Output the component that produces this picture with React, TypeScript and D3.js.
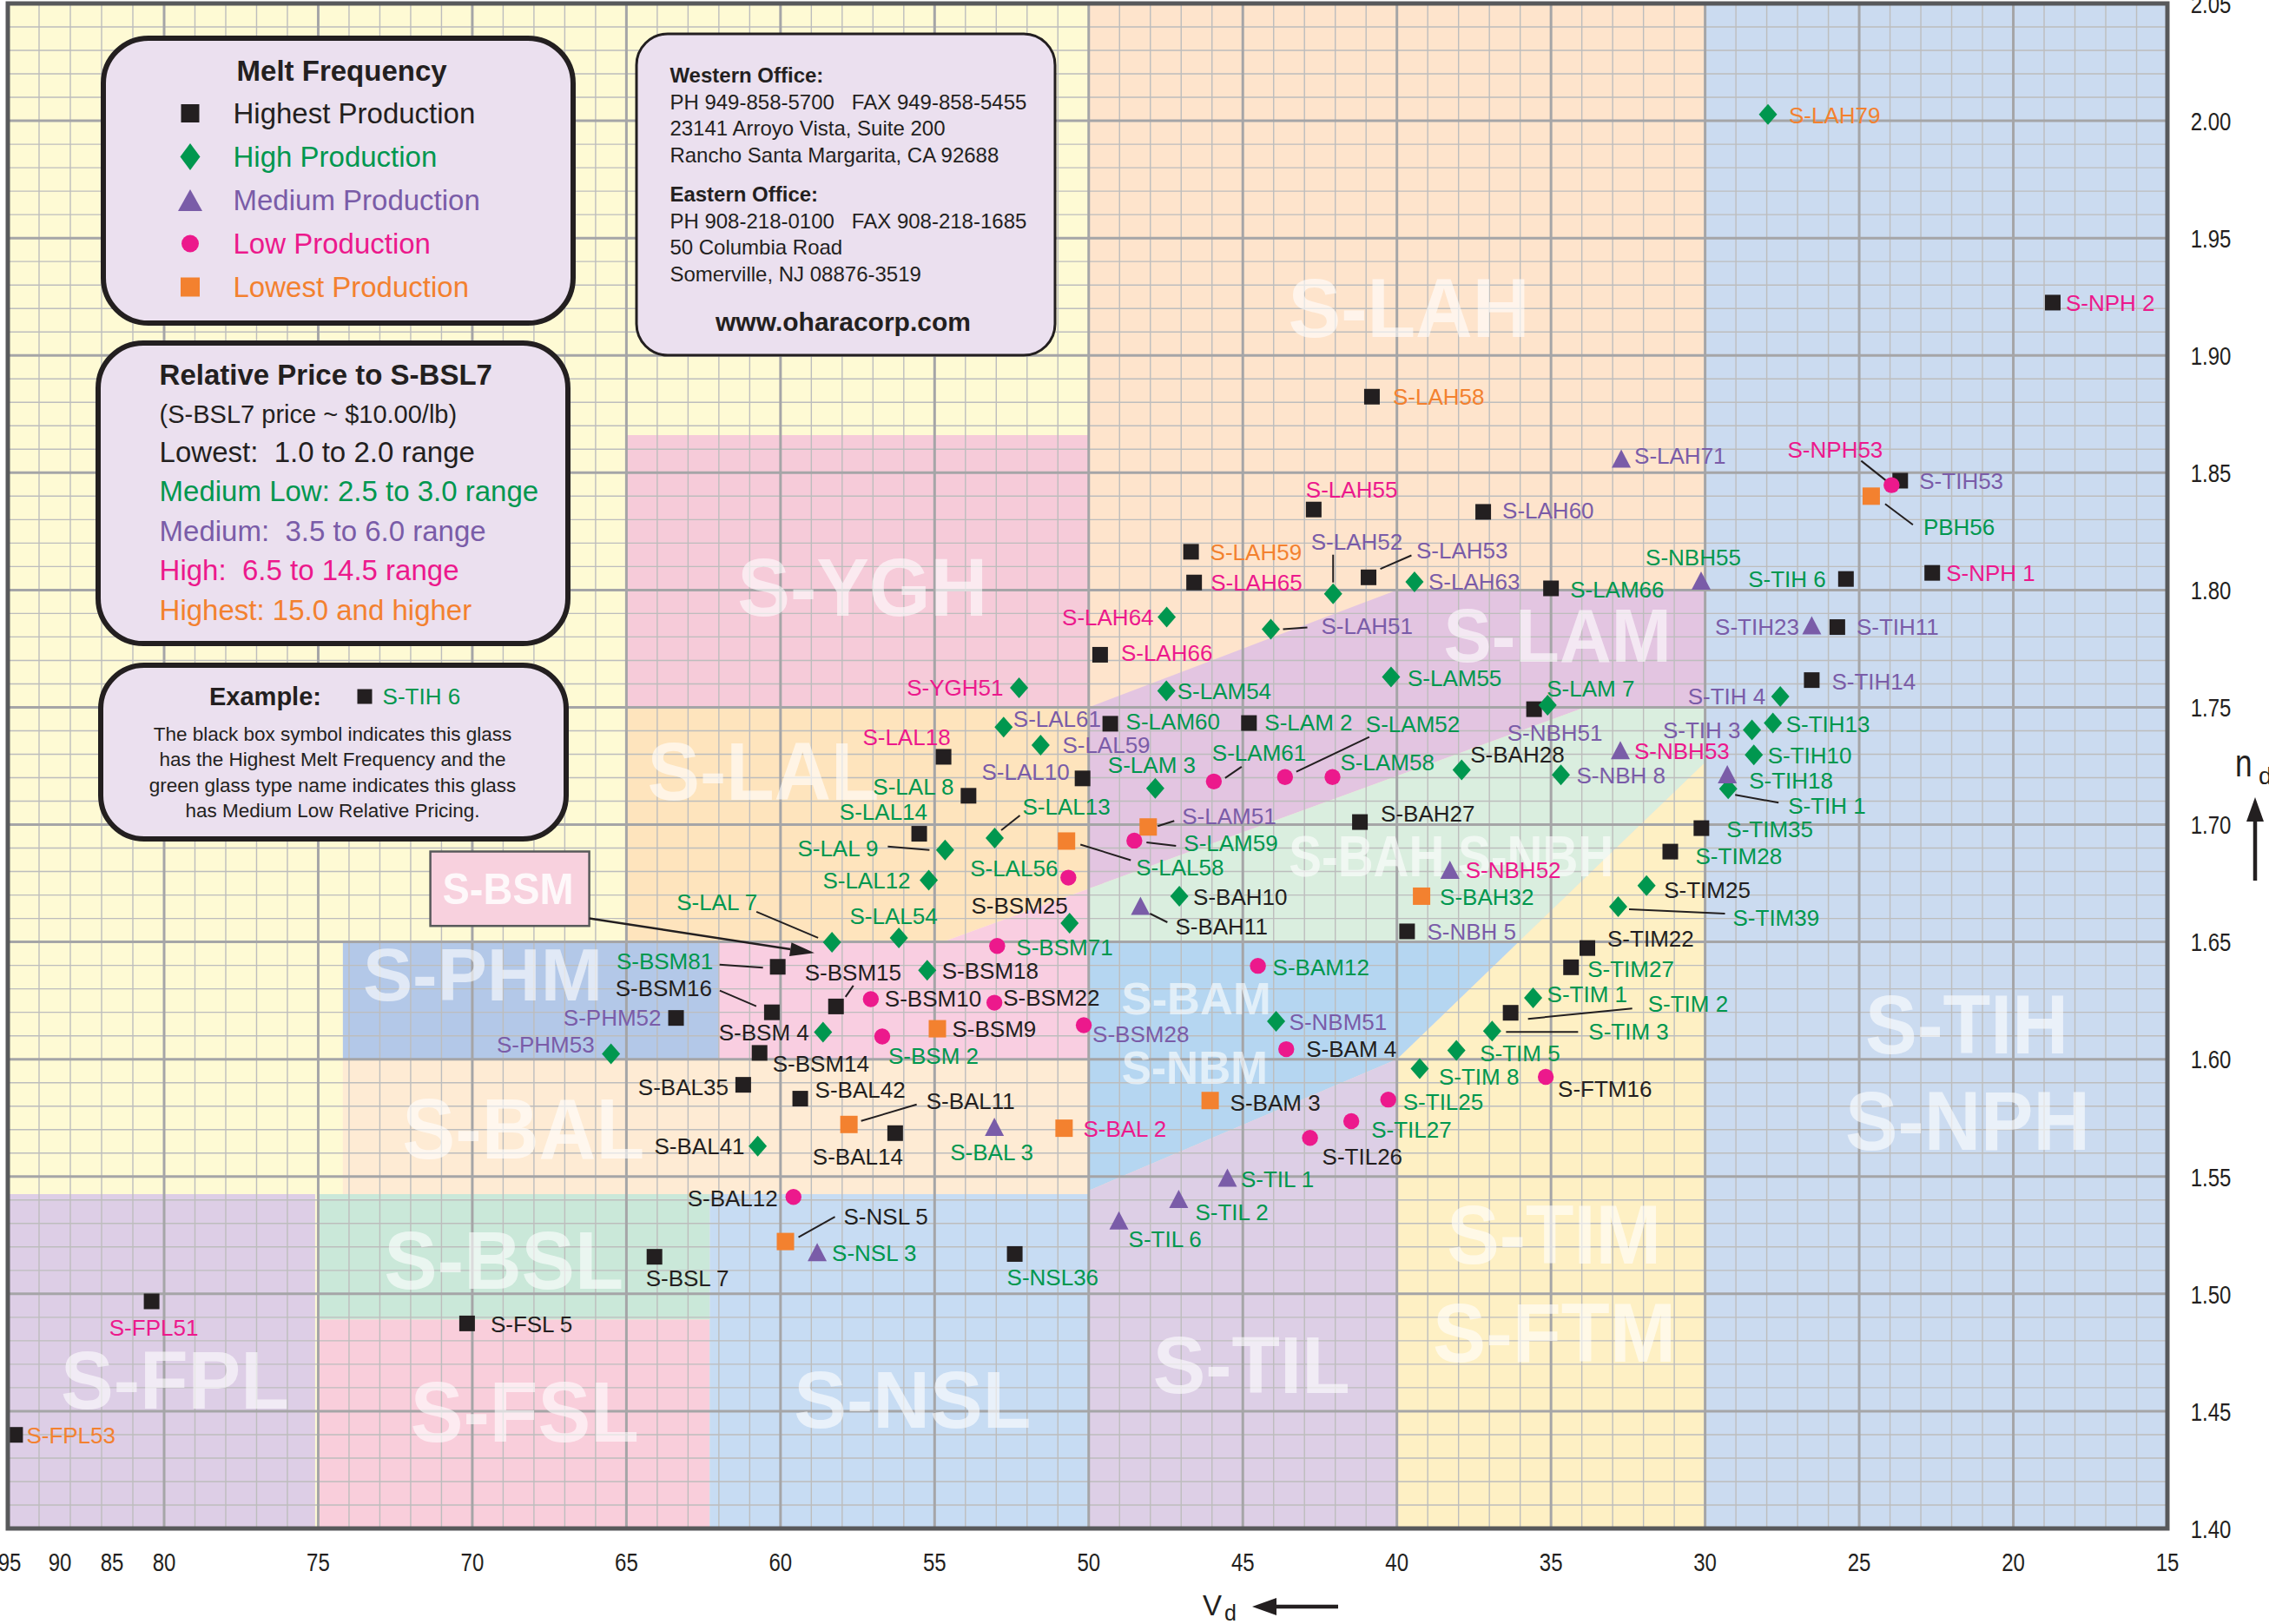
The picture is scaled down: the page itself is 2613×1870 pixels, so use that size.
import React from "react";
import * as d3 from "d3";

const W = 2613;
const H = 1870;

// glass types as printed on the map
const glassNames = [
  "S-FPL53", "S-FPL51", "S-FSL 5", "S-BSL 7", "S-NSL 3", "S-NSL 5", "S-NSL36",
  "S-BAL12", "S-BAL41", "S-BAL35", "S-BAL42", "S-BAL11", "S-BAL14", "S-BAL 3", "S-BAL 2",
  "S-PHM52", "S-PHM53",
  "S-BSM81", "S-BSM16", "S-BSM14", "S-BSM 4", "S-BSM15", "S-BSM10", "S-BSM 2", "S-BSM18", "S-BSM9", "S-BSM22", "S-BSM71", "S-BSM25", "S-BSM28",
  "S-LAL 7", "S-LAL54", "S-LAL12", "S-LAL 9", "S-LAL14", "S-LAL 8", "S-LAL18", "S-LAL13", "S-LAL56", "S-LAL58", "S-LAL10", "S-LAL59", "S-LAL61",
  "S-YGH51",
  "S-LAM60", "S-LAM 3", "S-LAM51", "S-LAM59", "S-LAM54", "S-LAM 2", "S-LAM61", "S-LAM52", "S-LAM58", "S-LAM55", "S-NBH51", "S-LAM 7", "S-LAM66",
  "S-LAH64", "S-LAH66", "S-LAH59", "S-LAH65", "S-LAH55", "S-LAH52", "S-LAH53", "S-LAH63", "S-LAH51", "S-LAH60", "S-LAH58", "S-LAH71", "S-LAH79",
  "S-BAH10", "S-BAH11", "S-BAH27", "S-BAH28", "S-BAH32",
  "S-NBH52", "S-NBH 5", "S-NBH 8", "S-NBH53", "S-NBH55",
  "S-BAM12", "S-NBM51", "S-BAM 4", "S-BAM 3",
  "S-TIL 1", "S-TIL 2", "S-TIL 6", "S-TIL25", "S-TIL27", "S-TIL26",
  "S-TIM22", "S-TIM27", "S-TIM 1", "S-TIM 2", "S-TIM 3", "S-TIM 5", "S-TIM 8", "S-FTM16", "S-TIM25", "S-TIM39", "S-TIM28", "S-TIM35",
  "S-TIH 1", "S-TIH18", "S-TIH10", "S-TIH 3", "S-TIH13", "S-TIH 4", "S-TIH14", "S-TIH23", "S-TIH11", "S-TIH 6", "S-NPH 1", "S-TIH53", "S-NPH53", "PBH56", "S-NPH 2",
];

// abbe number vd
const abbeNumbers = [
  94.3, 81.2, 70.17, 64.09, 58.81, 59.84, 52.4,
  59.58, 60.74, 61.21, 59.36, 57.78, 56.28, 53.06, 50.8,
  63.39, 65.5,
  60.09, 60.28, 60.68, 58.62, 58.2, 57.07, 56.7, 55.24, 54.91, 53.06, 52.97, 50.62, 50.16,
  58.33, 56.16, 55.19, 54.66, 55.5, 53.9, 54.71, 53.05, 50.66, 50.72, 50.2, 51.56, 52.76,
  52.26,
  49.3, 47.84, 48.07, 48.52, 47.48, 44.8, 45.94, 43.63, 42.09, 40.19, 35.55, 35.11, 35.0,
  47.47, 49.63, 46.68, 46.58, 42.7, 42.07, 40.92, 39.43, 44.09, 37.2, 40.81, 32.72, 27.96,
  47.06, 48.32, 41.2, 37.9, 39.2,
  38.28, 39.67, 34.68, 32.75, 30.13,
  44.51, 43.92, 43.59, 46.06,
  45.5, 47.08, 49.02, 40.28, 41.48, 42.82,
  33.82, 34.35, 35.58, 36.31, 36.91, 38.07, 39.26, 35.17, 31.9, 32.82, 31.13, 30.12,
  29.25, 29.28, 28.42, 28.48, 27.8, 27.56, 26.54, 26.54, 25.71, 25.43, 22.63, 23.67, 23.95, 24.61, 18.72,
];

// refractive index nd
const refractiveIndices = [
  1.4399, 1.4968, 1.4874, 1.5158, 1.5178, 1.5223, 1.517,
  1.5413, 1.563, 1.5891, 1.5832, 1.5722, 1.5685, 1.5712, 1.5706,
  1.6176, 1.6023,
  1.6394, 1.62, 1.6027, 1.6115, 1.6225, 1.6256, 1.6097, 1.6379, 1.613, 1.6241, 1.6483, 1.658, 1.6145,
  1.6499, 1.6517, 1.6763, 1.6892, 1.6961, 1.7123, 1.7289, 1.6943, 1.6774, 1.693, 1.7197, 1.7339, 1.7416,
  1.7583,
  1.743, 1.7155, 1.699, 1.6932, 1.757, 1.7433, 1.7184, 1.7203, 1.7203, 1.7629, 1.7492, 1.7509, 1.8007,
  1.7885, 1.7724, 1.8163, 1.8032, 1.8343, 1.7984, 1.8054, 1.8035, 1.7833, 1.8333, 1.8824, 1.856, 2.0027,
  1.6695, 1.6654, 1.7011, 1.7233, 1.6695,
  1.6808, 1.6545, 1.7212, 1.7318, 1.804,
  1.6398, 1.6162, 1.6043, 1.5824,
  1.5495, 1.5405, 1.5313, 1.5828, 1.5736, 1.5665,
  1.6474, 1.6392, 1.6262, 1.6198, 1.612, 1.6038, 1.596, 1.5925, 1.674, 1.665, 1.6885, 1.6985,
  1.7153, 1.7215, 1.7297, 1.7404, 1.7433, 1.7546, 1.7616, 1.785, 1.7842, 1.8047, 1.8073, 1.8466, 1.8447, 1.84, 1.9225,
];

// melt frequency -> marker
const meltFrequency = [
  "highest", "highest", "highest", "highest", "medium", "lowest", "highest",
  "low", "high", "highest", "highest", "lowest", "highest", "medium", "lowest",
  "highest", "high",
  "highest", "highest", "highest", "high", "highest", "low", "low", "high", "lowest", "low", "low", "high", "low",
  "high", "high", "high", "high", "highest", "highest", "highest", "high", "low", "lowest", "highest", "high", "high",
  "high",
  "highest", "high", "lowest", "low", "high", "highest", "low", "low", "low", "high", "highest", "high", "highest",
  "high", "highest", "highest", "highest", "highest", "high", "highest", "high", "high", "highest", "highest", "medium", "high",
  "high", "medium", "highest", "high", "lowest",
  "medium", "highest", "high", "medium", "medium",
  "low", "high", "low", "lowest",
  "medium", "medium", "medium", "low", "low", "low",
  "highest", "highest", "high", "highest", "high", "high", "high", "low", "high", "high", "highest", "highest",
  "high", "medium", "high", "high", "high", "high", "highest", "medium", "highest", "highest", "highest", "highest", "low", "lowest", "highest",
];

// relative price -> label colour
const relativePrice = [
  "highest", "high", "lowest", "lowest", "mediumLow", "lowest", "mediumLow",
  "lowest", "lowest", "lowest", "lowest", "lowest", "lowest", "mediumLow", "high",
  "medium", "medium",
  "mediumLow", "lowest", "lowest", "lowest", "lowest", "lowest", "mediumLow", "lowest", "lowest", "lowest", "mediumLow", "lowest", "medium",
  "mediumLow", "mediumLow", "mediumLow", "mediumLow", "mediumLow", "mediumLow", "high", "mediumLow", "mediumLow", "mediumLow", "medium", "medium", "medium",
  "high",
  "mediumLow", "mediumLow", "medium", "mediumLow", "mediumLow", "mediumLow", "mediumLow", "mediumLow", "mediumLow", "mediumLow", "medium", "mediumLow", "mediumLow",
  "high", "high", "highest", "high", "high", "medium", "medium", "medium", "medium", "medium", "highest", "medium", "highest",
  "lowest", "lowest", "lowest", "lowest", "mediumLow",
  "high", "medium", "medium", "high", "mediumLow",
  "mediumLow", "medium", "lowest", "lowest",
  "mediumLow", "mediumLow", "mediumLow", "mediumLow", "mediumLow", "lowest",
  "lowest", "mediumLow", "mediumLow", "mediumLow", "mediumLow", "mediumLow", "mediumLow", "lowest", "lowest", "mediumLow", "mediumLow", "mediumLow",
  "mediumLow", "mediumLow", "mediumLow", "medium", "mediumLow", "medium", "medium", "medium", "medium", "mediumLow", "high", "medium", "high", "mediumLow", "high",
];

const abbeTicks = [95, 90, 85, 80, 75, 70, 65, 60, 55, 50, 45, 40, 35, 30, 25, 20, 15];
const indexTicks = ["1.40", "1.45", "1.50", "1.55", "1.60", "1.65", "1.70", "1.75", "1.80", "1.85", "1.90", "1.95", "2.00", "2.05"];

// glass family zones, outlines in (vd, nd)
const familyZones = [
  ["base", "#fefad4", [[95, 1.4], [95, 2.05], [50, 2.05], [50, 1.4]]],
  ["S-LAH", "#fee4cc", [[50, 1.4], [50, 2.05], [30, 2.05], [30, 1.4]]],
  ["S-TIH", "#cbdbf0", [[30, 1.4], [30, 2.05], [15, 2.05], [15, 1.4]]],
  ["S-YGH", "#f6cbd9", [[65, 1.75], [65, 1.866], [50, 1.866], [50, 1.75]]],
  ["S-LAL", "#fee4bd", [[65, 1.65], [65, 1.75], [50, 1.75], [50, 1.6727], [54.73, 1.65]]],
  ["S-LAM", "#e3c5e1", [[50, 1.6727], [50, 1.75], [40, 1.8], [30, 1.8], [30, 1.75], [33.9, 1.75]]],
  ["S-BAH", "#daeedf", [[50, 1.65], [50, 1.6727], [33.9, 1.75], [30, 1.75], [30, 1.7265], [36.05, 1.65]]],
  ["S-TIM", "#fef0c4", [[40, 1.4], [40, 1.6], [30, 1.7265], [30, 1.4]]],
  ["S-BAM", "#b5d6f1", [[50, 1.544], [50, 1.65], [36.05, 1.65], [40, 1.6]]],
  ["S-TIL", "#ddcfe6", [[50, 1.4], [50, 1.544], [40, 1.6], [40, 1.4]]],
  ["S-BSM", "#f9cee1", [[62, 1.6], [62, 1.65], [54.73, 1.65], [50, 1.6727], [50, 1.6]]],
  ["S-PHM", "#b3c8e8", [[74.2, 1.6], [74.2, 1.65], [62, 1.65], [62, 1.6]]],
  ["S-BAL", "#feebd4", [[74.2, 1.5425], [74.2, 1.6], [50, 1.6], [50, 1.5425]]],
  ["S-BSL", "#cae8d9", [[75, 1.489], [75, 1.5425], [62.3, 1.5425], [62.3, 1.489]]],
  ["S-FSL", "#f9cedb", [[75, 1.4], [75, 1.489], [62.3, 1.489], [62.3, 1.4]]],
  ["S-FPL", "#ddcee6", [[95, 1.4], [95, 1.5425], [75.1, 1.5425], [75.1, 1.4]]],
  ["S-NSL", "#c7dcf3", [[62.3, 1.4], [62.3, 1.5425], [50, 1.5425], [50, 1.4]]],
];

// family names: text, vd, nd, font size, width
const familyLabels = [
  ["S-LAH", 39.61, 1.9207, 96, 278],
  ["S-YGH", 57.34, 1.8015, 94, 288],
  ["S-LAL", 60.56, 1.7229, 94, 267],
  ["S-LAM", 34.79, 1.781, 87, 262],
  ["S-BAH S-NBH", 38.24, 1.6867, 67, 374],
  ["S-BAM", 46.51, 1.6259, 51, 172],
  ["S-NBM", 46.56, 1.5966, 53, 168],
  ["S-PHM", 69.66, 1.6363, 86, 276],
  ["S-BAL", 68.34, 1.5706, 98, 279],
  ["S-BSL", 68.98, 1.5147, 94, 276],
  ["S-FPL", 79.65, 1.4637, 94, 263],
  ["S-FSL", 68.3, 1.45, 98, 263],
  ["S-NSL", 55.72, 1.4552, 93, 273],
  ["S-TIL", 44.72, 1.4701, 92, 227],
  ["S-TIM", 34.9, 1.5255, 96, 247],
  ["S-FTM", 34.89, 1.4838, 96, 280],
  ["S-TIH", 21.51, 1.6153, 96, 234],
  ["S-NPH", 21.48, 1.574, 96, 282],
];

// label offset from marker: dx, dy, anchor, optional leader line
const labelLayout = {
  "S-FPL53": [13, 0, "s"],
  "S-FPL51": [2.5, 30, "m"],
  "S-FSL 5": [27, 1, "s"],
  "S-BSL 7": [-10, 25, "s"],
  "S-NSL 3": [17, 1, "s"],
  "S-NSL 5": [67, -29, "s", [15, -5, 57, -28.5]],
  "S-NSL36": [-9, 27, "s"],
  "S-BAL12": [-18, 1, "e"],
  "S-BAL41": [-15, 0, "e"],
  "S-BAL35": [-17, 3, "e"],
  "S-BAL42": [17, -10, "s"],
  "S-BAL11": [89, -27, "s", [14, -4, 78, -23]],
  "S-BAL14": [-43, 27, "m"],
  "S-BAL 3": [-3, 29, "m"],
  "S-BAL 2": [22, 1, "s"],
  "S-PHM52": [-17, 0, "e"],
  "S-PHM53": [-19, -11, "e"],
  "S-BSM81": [-74.5, -7, "e", [-67, -2.5, -17, 1]],
  "S-BSM16": [-69, -28, "e", [-60, -25, -18, -7]],
  "S-BSM14": [15, 12, "s"],
  "S-BSM 4": [-16, 0, "e"],
  "S-BSM15": [-36, -39, "s", [20, -24, 11, -11]],
  "S-BSM10": [16, -1, "s"],
  "S-BSM 2": [7, 22, "s"],
  "S-BSM18": [17, 0, "s"],
  "S-BSM9": [17, 0, "s"],
  "S-BSM22": [10, -6, "s"],
  "S-BSM71": [22, 1, "s"],
  "S-BSM25": [-2, -20, "e"],
  "S-BSM28": [10, 10, "s"],
  "S-LAL 7": [-86, -46, "e", [-87, -35, -16, -5]],
  "S-LAL54": [-6, -25, "m"],
  "S-LAL12": [-21, 0, "e"],
  "S-LAL 9": [-77, -2, "e", [-66, -4, -18, 0]],
  "S-LAL14": [9.5, -25, "e"],
  "S-LAL 8": [-17, -11, "e"],
  "S-LAL18": [8, -23, "e"],
  "S-LAL13": [32, -36.5, "s", [7.5, -9, 29, -26]],
  "S-LAL56": [-12, -11, "e"],
  "S-LAL58": [80, 30, "s", [16, 4, 74, 22]],
  "S-LAL10": [-15, -7.5, "e"],
  "S-LAL59": [25, 0, "s"],
  "S-LAL61": [11, -9, "s"],
  "S-YGH51": [-18, 0, "e"],
  "S-LAM60": [18, -3, "s"],
  "S-LAM 3": [-4, -27, "m"],
  "S-LAM51": [39, -13, "s", [11, -1, 30, -7]],
  "S-LAM59": [57, 3, "s", [14, 2, 48, 6]],
  "S-LAM54": [12.5, 0, "s"],
  "S-LAM 2": [18, -1, "s"],
  "S-LAM61": [-2, -33, "s", [13, -4, 32, -17]],
  "S-LAM52": [93, -61, "s", [13, -6, 97, -46]],
  "S-LAM58": [9, -17, "s"],
  "S-LAM55": [19, 1, "s"],
  "S-NBH51": [-31, 27, "s"],
  "S-LAM 7": [-1, -19, "s"],
  "S-LAM66": [22, 1, "s"],
  "S-LAH64": [-15, 0, "e"],
  "S-LAH66": [24, -2, "s"],
  "S-LAH59": [22, 0, "s"],
  "S-LAH65": [19, 0, "s"],
  "S-LAH55": [-9, -23, "s"],
  "S-LAH52": [-25.5, -60, "s", [0, -45, 0, -13]],
  "S-LAH53": [55, -31, "s", [13.5, -9.6, 49.4, -25.3]],
  "S-LAH63": [16, 0, "s"],
  "S-LAH51": [58, -4, "s", [14, 0, 42, -2]],
  "S-LAH60": [22, -1.5, "s"],
  "S-LAH58": [24, 0, "s"],
  "S-LAH71": [15, -3, "s"],
  "S-LAH79": [24, 1, "s"],
  "S-BAH10": [16, 1, "s"],
  "S-BAH11": [40, 24, "s", [11, 9, 31, 19]],
  "S-BAH27": [24, -10, "s"],
  "S-BAH28": [10, -18, "s"],
  "S-BAH32": [21, 1, "s"],
  "S-NBH52": [18, 0, "s"],
  "S-NBH 5": [23, 0, "s"],
  "S-NBH 8": [18, 0, "s"],
  "S-NBH53": [16, 1.5, "s"],
  "S-NBH55": [-9, -27, "m"],
  "S-BAM12": [17, 2, "s"],
  "S-NBM51": [15, 1, "s"],
  "S-BAM 4": [23, 0, "s"],
  "S-BAM 3": [23, 2, "s"],
  "S-TIL 1": [15.5, 2, "s"],
  "S-TIL 2": [19, 15, "s"],
  "S-TIL 6": [11, 21, "s"],
  "S-TIL25": [17, 3, "s"],
  "S-TIL27": [23, 10, "s"],
  "S-TIL26": [14, 21, "s"],
  "S-TIM22": [23, -11, "s"],
  "S-TIM27": [19, 2, "s"],
  "S-TIM 1": [16, -4, "s"],
  "S-TIM 2": [158, -11, "s", [20, 7, 140, -5]],
  "S-TIM 3": [111, 0, "s", [16, 1, 99, 1]],
  "S-TIM 5": [27, 3, "s"],
  "S-TIM 8": [22, 9, "s"],
  "S-FTM16": [14, 14, "s"],
  "S-TIM25": [20, 5, "s"],
  "S-TIM39": [132, 13, "s", [12.5, 3, 123, 8]],
  "S-TIM28": [29, 5, "s"],
  "S-TIM35": [29, 1, "s"],
  "S-TIH 1": [69, 19, "s", [8, 7, 58, 16]],
  "S-TIH18": [25, 7, "s"],
  "S-TIH10": [16, 0.5, "s"],
  "S-TIH 3": [-13, 0, "e"],
  "S-TIH13": [15, 1, "s"],
  "S-TIH 4": [-17, 0, "e"],
  "S-TIH14": [23, 1.5, "s"],
  "S-TIH23": [-14.5, 1.5, "e"],
  "S-TIH11": [22, 0, "s"],
  "S-TIH 6": [-23, 0, "e"],
  "S-NPH 1": [16, 0, "s"],
  "S-TIH53": [22, 0.5, "s"],
  "S-NPH53": [-10, -41, "e", [-35, -28, -6, -5]],
  "PBH56": [60, 35, "s", [16, 9, 48, 33]],
  "S-NPH 2": [15, 0, "s"],
};

const FONT = "'Liberation Sans', Arial, Helvetica, sans-serif";
const INK = "#231f20";
const GREEN = "#00974f";
const PURPLE = "#7a5ca8";
const PINK = "#ec198c";
const ORANGE = "#f3812f";
const BOX_FILL = "#ebe0ef";

const priceColor = { lowest: INK, mediumLow: GREEN, medium: PURPLE, high: PINK, highest: ORANGE };
const meltColor = { highest: INK, high: GREEN, medium: PURPLE, low: PINK, lowest: ORANGE };
const anchorOf = { s: "start", e: "end", m: "middle" };

const PLOT_MARK = { square: 18, lowest: 20, diamond: [21, 24], triangle: [22, 21], r: 9.2 };
const LEGEND_MARK = { square: 21, lowest: 22, diamond: [23, 31], triangle: [28, 25], r: 10 };

function Marker({ kind, cx, cy, m }) {
  const fill = meltColor[kind];
  if (kind === "low") return <circle cx={cx} cy={cy} r={m.r} fill={fill} />;
  if (kind === "high") {
    const w = m.diamond[0] / 2;
    const h = m.diamond[1] / 2;
    return <path d={`M${cx},${cy - h}L${cx + w},${cy}L${cx},${cy + h}L${cx - w},${cy}Z`} fill={fill} />;
  }
  if (kind === "medium") {
    const w = m.triangle[0] / 2;
    const h = m.triangle[1] / 2;
    return <path d={`M${cx},${cy - h}L${cx + w},${cy + h}L${cx - w},${cy + h}Z`} fill={fill} />;
  }
  const s = kind === "lowest" ? m.lowest : m.square;
  return <rect x={cx - s / 2} y={cy - s / 2} width={s} height={s} fill={fill} />;
}

// text placed by its vertical centre
function T({ x, y, size, children, ...rest }) {
  return (
    <text x={x} y={y + size * 0.358} fontSize={size} style={{ whiteSpace: "pre" }} {...rest}>
      {children}
    </text>
  );
}

const meltLegend = [
  ["highest", "Highest Production"],
  ["high", "High Production"],
  ["medium", "Medium Production"],
  ["low", "Low Production"],
  ["lowest", "Lowest Production"],
];

const priceLegend = [
  ["Lowest:  1.0 to 2.0 range", INK],
  ["Medium Low: 2.5 to 3.0 range", GREEN],
  ["Medium:  3.5 to 6.0 range", PURPLE],
  ["High:  6.5 to 14.5 range", PINK],
  ["Highest: 15.0 and higher", ORANGE],
];

const officeLines = [
  ["Western Office:", true, 86.7],
  ["PH 949-858-5700   FAX 949-858-5455", false, 117],
  ["23141 Arroyo Vista, Suite 200", false, 147.6],
  ["Rancho Santa Margarita, CA 92688", false, 178.6],
  ["Eastern Office:", true, 223],
  ["PH 908-218-0100   FAX 908-218-1685", false, 254],
  ["50 Columbia Road", false, 284.8],
  ["Somerville, NJ 08876-3519", false, 315],
];

export default function App() {
  const x = d3.scaleLinear().domain([95, 80, 15]).range([9, 189, 2496]);
  const y = d3.scaleLinear().domain([1.4, 2.05]).range([1760, 4]);
  const outline = d3
    .line()
    .x((d) => x(d[0]))
    .y((d) => y(d[1]));

  const left = x(95);
  const right = x(15);
  const top = y(2.05);
  const bottom = y(1.4);

  const minorV = [...d3.range(16, 80).filter((v) => v % 5 !== 0), 83, 86, 89, 92];
  const majorV = d3.range(20, 81, 5);
  const minorH = d3.range(141, 205).filter((i) => i % 5 !== 0).map((i) => i / 100);
  const majorH = d3.range(145, 205, 5).map((i) => i / 100);

  const glasses = glassNames.map((name, i) => ({
    name,
    vd: abbeNumbers[i],
    nd: refractiveIndices[i],
    melt: meltFrequency[i],
    price: relativePrice[i],
    layout: labelLayout[name] || [15, 0, "s"],
  }));

  // arrow from the S-BSM tag to its zone
  const tagX = 495.6;
  const tagY = 980.5;
  const tagW = 183;
  const tagH = 85.7;
  const a0 = [tagX + tagW, 1057.4];
  const a1 = [x(58.9), y(1.6453)];
  const len = Math.hypot(a1[0] - a0[0], a1[1] - a0[1]);
  const ux = (a1[0] - a0[0]) / len;
  const uy = (a1[1] - a0[1]) / len;
  const hb = [a1[0] - 28 * ux, a1[1] - 28 * uy];
  const head = `M${a1[0]},${a1[1]}L${hb[0] - 8 * uy},${hb[1] + 8 * ux}L${hb[0] + 8 * uy},${hb[1] - 8 * ux}Z`;

  return (
    <svg
      width={W}
      height={H}
      fontFamily={FONT}
      style={{ position: "absolute", left: 0, top: 0, background: "#ffffff" }}
    >
      <rect width={W} height={H} fill="#ffffff" />

      {familyZones.map(([name, fill, pts]) => (
        <path key={name} d={outline(pts) + "Z"} fill={fill} />
      ))}

      <g>
        {minorV.map((v) => (
          <line key={"mv" + v} x1={x(v)} x2={x(v)} y1={top} y2={bottom} stroke="#bdbdbd" strokeWidth={1.4} />
        ))}
        {minorH.map((v) => (
          <line key={"mh" + v} x1={left} x2={right} y1={y(v)} y2={y(v)} stroke="#bdbdbd" strokeWidth={1.4} />
        ))}
        {majorV.map((v) => (
          <line key={"Mv" + v} x1={x(v)} x2={x(v)} y1={top} y2={bottom} stroke="#a5a5a7" strokeWidth={3} />
        ))}
        {majorH.map((v) => (
          <line key={"Mh" + v} x1={left} x2={right} y1={y(v)} y2={y(v)} stroke="#a5a5a7" strokeWidth={3} />
        ))}
      </g>

      {familyLabels.map(([text, vd, nd, size, width]) => (
        <T
          key={text}
          x={x(vd)}
          y={y(nd)}
          size={size}
          fontWeight="bold"
          textAnchor="middle"
          textLength={width}
          lengthAdjust="spacingAndGlyphs"
          fill="#ffffff"
          fillOpacity={0.6}
        >
          {text}
        </T>
      ))}

      {/* S-BSM tag with arrow */}
      <rect x={tagX} y={tagY} width={tagW} height={tagH} fill="#f8d1de" stroke="#58595b" strokeWidth={2.5} />
      <T x={tagX + tagW / 2 - 2} y={tagY + tagH / 2} size={50} fontWeight="bold" textAnchor="middle" textLength={151} lengthAdjust="spacingAndGlyphs" fill="#ffffff" fillOpacity={0.85}>
        S-BSM
      </T>
      <line x1={a0[0]} y1={a0[1]} x2={hb[0]} y2={hb[1]} stroke={INK} strokeWidth={2.5} />
      <path d={head} fill={INK} />

      {/* melt frequency legend */}
      <rect x={119} y={44} width={541} height={328} rx={52} fill={BOX_FILL} stroke={INK} strokeWidth={6} />
      <T x={393.6} y={81} size={33} fontWeight="bold" textAnchor="middle" fill={INK}>
        Melt Frequency
      </T>
      {meltLegend.map(([kind, text], i) => (
        <g key={kind}>
          <Marker kind={kind} cx={219} cy={130.5 + i * 50} m={LEGEND_MARK} />
          <T x={268.5} y={130.5 + i * 50} size={33} fill={meltColor[kind]}>
            {text}
          </T>
        </g>
      ))}

      {/* relative price legend */}
      <rect x={113} y={395} width={541} height={346} rx={52} fill={BOX_FILL} stroke={INK} strokeWidth={6} />
      <T x={183.6} y={431} size={33} fontWeight="bold" fill={INK}>
        Relative Price to S-BSL7
      </T>
      <T x={183.6} y={477} size={29} fill={INK}>
        (S-BSL7 price ~ $10.00/lb)
      </T>
      {priceLegend.map(([text, color], i) => (
        <T key={text} x={183.6} y={520 + i * 45.5} size={33} fill={color}>
          {text}
        </T>
      ))}

      {/* example */}
      <rect x={116} y={766} width={536} height={200} rx={50} fill={BOX_FILL} stroke={INK} strokeWidth={6} />
      <T x={241} y={802} size={29} fontWeight="bold" fill={INK}>
        Example:
      </T>
      <rect x={411.5} y={793.5} width={17} height={17} fill={INK} />
      <T x={440.6} y={802} size={26} fill={GREEN}>
        S-TIH 6
      </T>
      {[
        "The black box symbol indicates this glass",
        "has the Highest Melt Frequency and the",
        "green glass type name indicates this glass",
        "has Medium Low Relative Pricing.",
      ].map((t, i) => (
        <T key={t} x={383} y={845 + i * 29.3} size={22.5} textAnchor="middle" fill={INK}>
          {t}
        </T>
      ))}

      {/* office box */}
      <rect x={733} y={39} width={482} height={370} rx={36} fill={BOX_FILL} stroke={INK} strokeWidth={3} />
      {officeLines.map(([t, bold, cy]) => (
        <T key={t} x={771.4} y={cy} size={24} fontWeight={bold ? "bold" : "normal"} fill={INK}>
          {t}
        </T>
      ))}
      <T x={971} y={370} size={30} fontWeight="bold" textAnchor="middle" fill={INK}>
        www.oharacorp.com
      </T>

      {/* leader lines */}
      {glasses
        .filter((g) => g.layout[3])
        .map((g) => {
          const px = x(g.vd);
          const py = y(g.nd);
          const [x1, y1, x2, y2] = g.layout[3];
          return (
            <line key={"ld" + g.name} x1={px + x1} y1={py + y1} x2={px + x2} y2={py + y2} stroke={INK} strokeWidth={2} />
          );
        })}

      {/* glass markers */}
      {glasses.map((g) => (
        <Marker key={"mk" + g.name} kind={g.melt} cx={x(g.vd)} cy={y(g.nd)} m={PLOT_MARK} />
      ))}

      {/* glass labels */}
      {glasses.map((g) => {
        const [dx, dy, anchor] = g.layout;
        return (
          <T
            key={"lb" + g.name}
            x={x(g.vd) + dx}
            y={y(g.nd) + dy}
            size={26}
            textAnchor={anchorOf[anchor]}
            fill={priceColor[g.price]}
          >
            {g.name}
          </T>
        );
      })}

      {/* frame */}
      <rect x={left} y={top} width={right - left} height={bottom - top} fill="none" stroke="#58595b" strokeWidth={5} />

      {/* axis tick labels */}
      {abbeTicks.map((v) => (
        <g key={"xt" + v} transform={`translate(${x(v) + (v === 95 ? 2 : 0)},${1798 + 30 * 0.358}) scale(0.8,1)`}>
          <text fontSize={30} textAnchor="middle" fill={INK}>
            {v}
          </text>
        </g>
      ))}
      {indexTicks.map((v) => (
        <g key={"yt" + v} transform={`translate(2546,${y(+v) + 30 * 0.358}) scale(0.8,1)`}>
          <text fontSize={30} textAnchor="middle" fill={INK}>
            {v}
          </text>
        </g>
      ))}

      {/* axis titles */}
      <text x={1385} y={1860} fontSize={33} fill={INK}>
        V
      </text>
      <text x={1410} y={1866} fontSize={25} fill={INK}>
        d
      </text>
      <line x1={1541} y1={1850} x2={1466} y2={1850} stroke={INK} strokeWidth={4.5} />
      <path d="M1442,1850L1470,1840L1470,1860Z" fill={INK} />

      <g transform="translate(2574,894) scale(0.8,1)">
        <text fontSize={44} fill={INK}>
          n
        </text>
      </g>
      <text x={2601} y={903} fontSize={28} fill={INK}>
        d
      </text>
      <line x1={2597} y1={1014} x2={2597} y2={942} stroke={INK} strokeWidth={4.5} />
      <path d="M2597,918L2587,946L2607,946Z" fill={INK} />
    </svg>
  );
}
